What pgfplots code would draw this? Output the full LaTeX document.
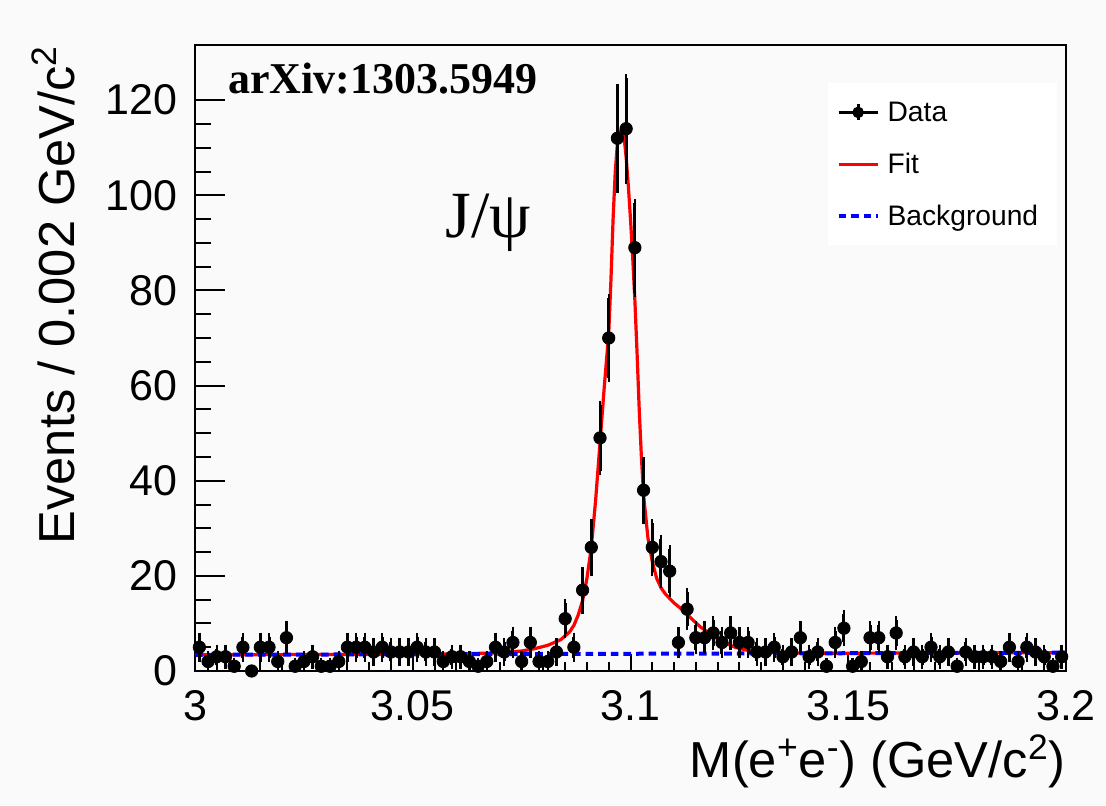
\documentclass[border=0pt]{standalone}
\usepackage{fontspec}
\setmainfont{Liberation Sans}
\newfontfamily\timesfont{Liberation Serif}
\usepackage{pgfplots}
\pgfplotsset{compat=1.18}
\usepackage{pgfplotstable}
\definecolor{bgc}{RGB}{250,250,250}

\pgfplotstableread{
x y e
3.001 5 2.236
3.003 2 1.414
3.005 3 1.732
3.007 3 1.732
3.009 1 1
3.011 5 2.236
3.013 0 0
3.015 5 2.236
3.017 5 2.236
3.019 2 1.414
3.021 7 2.646
3.023 1 1
3.025 2 1.414
3.027 3 1.732
3.029 1 1
3.031 1 1
3.033 2 1.414
3.035 5 2.236
3.037 5 2.236
3.039 5 2.236
3.041 4 2
3.043 5 2.236
3.045 4 2
3.047 4 2
3.049 4 2
3.051 5 2.236
3.053 4 2
3.055 4 2
3.057 2 1.414
3.059 3 1.732
3.061 3 1.732
3.063 2 1.414
3.065 1 1
3.067 2 1.414
3.069 5 2.236
3.071 4 2
3.073 6 2.449
3.075 2 1.414
3.077 6 2.449
3.079 2 1.414
3.081 2 1.414
3.083 4 2
3.085 11 3.317
3.087 5 2.236
3.089 17 4.123
3.091 26 5.099
3.093 49 7
3.095 70 8.367
3.097 112 10.583
3.099 114 10.677
3.101 89 9.434
3.103 38 6.164
3.105 26 5.099
3.107 23 4.796
3.109 21 4.583
3.111 6 2.449
3.113 13 3.606
3.115 7 2.646
3.117 7 2.646
3.119 8 2.828
3.121 6 2.449
3.123 8 2.828
3.125 6 2.449
3.127 6 2.449
3.129 4 2
3.131 4 2
3.133 5 2.236
3.135 3 1.732
3.137 4 2
3.139 7 2.646
3.141 3 1.732
3.143 4 2
3.145 1 1
3.147 6 2.449
3.149 9 3
3.151 1 1
3.153 2 1.414
3.155 7 2.646
3.157 7 2.646
3.159 3 1.732
3.161 8 2.828
3.163 3 1.732
3.165 4 2
3.167 3 1.732
3.169 5 2.236
3.171 3 1.732
3.173 4 2
3.175 1 1
3.177 4 2
3.179 3 1.732
3.181 3 1.732
3.183 3 1.732
3.185 2 1.414
3.187 5 2.236
3.189 2 1.414
3.191 5 2.236
3.193 4 2
3.195 3 1.732
3.197 1 1
3.199 3 1.732
}\datatable

\pgfplotstableread{
x y
3.000 3.40
3.040 3.50
3.055 3.56
3.062 3.65
3.067 3.75
3.070 3.85
3.075 4.2
3.078 4.7
3.081 5.4
3.084 6.6
3.086 8.2
3.087 9.6
3.088 11.8
3.089 14.8
3.090 19.5
3.091 26
3.092 36
3.093 48
3.094 60
3.095 71
3.0955 82
3.096 95
3.0965 105
3.097 111
3.0975 113.5
3.098 113.5
3.0985 112.5
3.099 108
3.0995 102
3.100 95
3.1005 87
3.101 78
3.1015 67
3.102 55
3.1025 45
3.103 37
3.104 28
3.105 23
3.106 19.5
3.107 17.5
3.108 16.2
3.110 14.3
3.112 12.8
3.114 11
3.116 9.3
3.118 8
3.120 6.8
3.122 5.8
3.124 5.0
3.127 4.3
3.130 3.95
3.135 3.80
3.140 3.74
3.150 3.745
3.200 3.855
}\fittable

\pgfplotstableread{
x y
3.000 3.40
3.200 3.85
}\bgtable

\begin{document}
\begin{tikzpicture}
\fill[bgc] (-97.5pt,-67pt) rectangle (455.5pt,335.5pt);
\useasboundingbox (-97.5pt,-67pt) rectangle (455.5pt,335.5pt);
\begin{axis}[
  at={(0pt,0pt)}, anchor=south west,
  scale only axis, width=435.5pt, height=313pt,
  xmin=3, xmax=3.2, ymin=0, ymax=131.6,
  axis line style={line width=1pt},
  tick align=inside, xtick pos=bottom, ytick pos=left,
  xtick={3,3.05,3.1,3.15,3.2}, xticklabels={3,3.05,3.1,3.15,3.2},
  ytick={0,20,40,60,80,100,120}, yticklabels={0,20,40,60,80,100,120},
  minor x tick num=9, minor y tick num=3,
  xtick style={/pgfplots/major tick length=8.5pt,/pgfplots/minor tick length=4.5pt, line width=1pt, black},
  ytick style={/pgfplots/major tick length=15pt,/pgfplots/minor tick length=8pt, line width=1pt, black},
  ticklabel style={font=\fontsize{21.5}{24}\selectfont},
  yticklabel style={inner sep=0pt, xshift=-8.5pt},
  xticklabel style={inner sep=0pt, anchor=base, yshift=-24.5pt},
  xlabel={M(e\textsuperscript{+}e\textsuperscript{-}) (GeV/c\textsuperscript{2})},
  ylabel={Events / 0.002 GeV/c\textsuperscript{2}},
  xlabel style={font=\fontsize{25.3}{28}\selectfont, at={(rel axis cs:1,-0.1709)}, anchor=base east, inner sep=0pt},
  ylabel style={font=\fontsize{25.3}{28}\selectfont, at={(rel axis cs:-0.1378,1)}, anchor=base east, inner sep=0pt, rotate=0},
  legend style={draw=none, fill=white, at={(0.9897,0.9393)}, anchor=north east,
    font=\fontsize{14.1}{16}\selectfont, inner xsep=4.5pt, inner ysep=8pt,
    row sep=13pt, column sep=4pt,
    nodes={inner sep=0pt, text height=11pt, text depth=2pt, text width=80pt, align=left}},
  legend cell align=left,
]
\addlegendimage{legend image code/.code={
  \draw[black, line width=1.5pt] (0pt,0pt) -- (19.5pt,0pt);
  \draw[black, line width=1.5pt] (9.75pt,-4pt) -- (9.75pt,4pt);
  \fill[black] (9.75pt,0pt) circle (2.7pt);}}
\addlegendentry{Data}
\addlegendimage{legend image code/.code={
  \draw[red, line width=1.6pt] (0pt,0pt) -- (19.5pt,0pt);}}
\addlegendentry{Fit}
\addlegendimage{legend image code/.code={
  \draw[blue, line width=2pt, dash pattern=on 3.8pt off 2.5pt] (0pt,0pt) -- (19.5pt,0pt);}}
\addlegendentry{Background}

\addplot[red, line width=1.6pt, forget plot] table[x=x, y=y] {\fittable};
\addplot[blue, line width=2pt, dash pattern=on 3.8pt off 2.5pt, forget plot] table[x=x, y=y] {\bgtable};
\addplot[black, only marks, mark=*, mark size=3.1pt, forget plot,
  error bars/.cd, y dir=both, y explicit, error mark=-,
  error bar style={line width=1.5pt, black},
  error mark options={line width=1.2pt, mark size=2pt, black}]
  table[x=x, y=y, y error=e] {\datatable};

\node[anchor=base west, font=\timesfont\bfseries\fontsize{22}{24}\selectfont, inner sep=0pt] at (rel axis cs:0.0379,0.923) {arXiv:1303.5949};
\node[anchor=base west, font=\timesfont\fontsize{33}{35}\selectfont, inner sep=0pt] at (rel axis cs:0.287,0.693) {J/ψ};
\end{axis}
\end{tikzpicture}
\end{document}
